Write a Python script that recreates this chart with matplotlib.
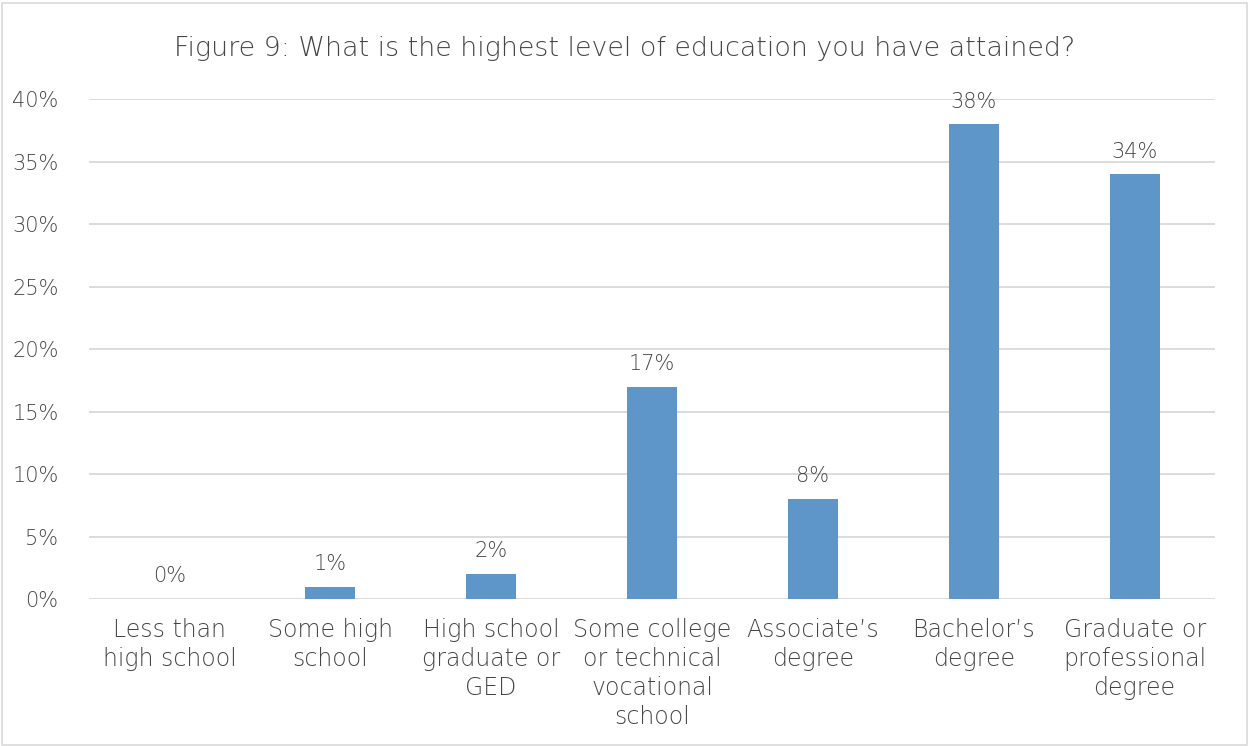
import matplotlib
matplotlib.use("Agg")
import matplotlib.pyplot as plt
from matplotlib.patches import Rectangle
from matplotlib.ticker import MultipleLocator, FuncFormatter

# survey answers, share of respondents (%)
categories = [
    "Less than\nhigh school",
    "Some high\nschool",
    "High school\ngraduate or\nGED",
    "Some college\nor technical\nvocational\nschool",
    "Associate\u2019s\ndegree",
    "Bachelor\u2019s\ndegree",
    "Graduate or\nprofessional\ndegree",
]
shares = [0, 1, 2, 17, 8, 38, 34]

TEXT = "#454545"
BAR = "#5F96CA"
GRID = "#D9D9D9"

plt.rcParams["font.family"] = ["DejaVu Sans"]
plt.rcParams["font.weight"] = "light"

fig = plt.figure(figsize=(12.49, 7.46), dpi=100)
ax = fig.add_axes([0.0713, 0.197, 0.9015, 0.670])

x = range(len(categories))
ax.bar(x, shares, width=0.31, color=BAR, zorder=3)

for xi, v in zip(x, shares):
    ax.annotate(f"{v}%", (xi, v), xytext=(0, 12), textcoords="offset points",
                ha="center", va="baseline", fontsize=15, color=TEXT)

ax.set_xlim(-0.5, len(categories) - 0.5)
ax.set_ylim(0, 40)
ax.yaxis.set_major_locator(MultipleLocator(5))
ax.yaxis.set_major_formatter(FuncFormatter(lambda v, p: f"{v:.0f}%"))
ax.grid(axis="y", color=GRID, linewidth=1.3, zorder=0)

ax.set_xticks(list(x))
ax.set_xticklabels(categories, fontsize=17, color=TEXT, linespacing=1.25)
ax.tick_params(axis="y", labelsize=15, labelcolor=TEXT, length=0, pad=22)
ax.tick_params(axis="x", length=0, pad=14)

for s in ax.spines.values():
    s.set_visible(False)

fig.text(0.5, 0.935, "Figure 9: What is the highest level of education you have attained?",
         ha="center", va="center", fontsize=19.4, color=TEXT)

# thin frame round the whole chart
fig.patches.append(Rectangle((0.002, 0.002), 0.996, 0.994, transform=fig.transFigure,
                             fill=False, edgecolor=GRID, linewidth=1.2))

fig.savefig("out.png", dpi=100)
